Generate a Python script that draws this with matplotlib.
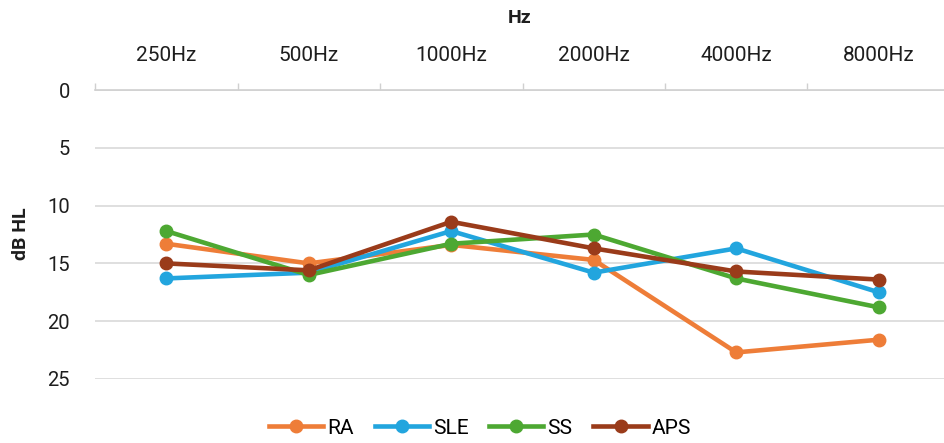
import matplotlib
matplotlib.use("Agg")
import matplotlib.pyplot as plt
from matplotlib.lines import Line2D

categories = ["250Hz", "500Hz", "1000Hz", "2000Hz", "4000Hz", "8000Hz"]
RA = [13.3, 15.0, 13.4, 14.7, 22.7, 21.6]
SLE = [16.3, 15.8, 12.2, 15.8, 13.7, 17.5]
SS = [12.2, 16.0, 13.3, 12.5, 16.3, 18.8]
APS = [15.0, 15.6, 11.4, 13.7, 15.7, 16.4]
series_names = ["RA", "SLE", "SS", "APS"]
yticks = [0, 5, 10, 15, 20, 25]

colors = ["#EE7D38", "#22A5DE", "#4DA832", "#9A3B1A"]
txt = '#1e1e1e'

plt.rcParams['font.family'] = ['Roboto', 'DejaVu Sans']

fig = plt.figure(figsize=(9.44, 4.43), dpi=100)
W, H = 944, 443
left, right = 95, 950
top, bottom = 90, 379
ax = fig.add_axes([left / W, 1 - bottom / H, (right - left) / W, (bottom - top) / H])

x = list(range(len(categories)))
for name, vals, c in zip(series_names, [RA, SLE, SS, APS], colors):
    ax.plot(x, vals, color=c, lw=3.3, marker='o', ms=9, label=name,
            solid_capstyle='round', solid_joinstyle='round')

ax.set_xlim(-0.5, len(categories) - 0.5)
ax.set_ylim(25, 0)
ax.set_yticks(yticks)
ax.set_yticklabels([str(v) for v in yticks], fontsize=14.5, color=txt)
ax.yaxis.grid(True, color='#d9d9d9', lw=1.2)
ax.set_axisbelow(True)
ax.tick_params(axis='y', length=0, pad=18)

ax.xaxis.tick_top()
ax.set_xticks(x)
ax.set_xticklabels(categories, fontsize=15, color=txt)
ax.set_xticks([i - 0.5 for i in range(len(categories) + 1)], minor=True)
ax.tick_params(axis='x', which='major', length=0, pad=18)
ax.tick_params(axis='x', which='minor', length=5, color='#d0d0d0', width=1, direction='out')

for s in ['left', 'right', 'bottom']:
    ax.spines[s].set_visible(False)
ax.spines['top'].set_color('#d0d0d0')
ax.spines['top'].set_linewidth(1.2)

fig.text(520 / W, 1 - 18 / H, "Hz", fontsize=14, fontweight='bold', ha='center', va='center', color=txt)
fig.text(21 / W, 1 - 234 / H, "dB HL", fontsize=14, fontweight='bold', ha='center', va='center',
         rotation=90, color=txt)

handles = [Line2D([0], [0], color=c, lw=3.3, marker='o', ms=9) for c in colors]
fig.legend(handles, series_names, loc='center', bbox_to_anchor=(480 / W, 1 - 428 / H), ncol=4,
           frameon=False, fontsize=15, handlelength=2.6, handletextpad=0.2, columnspacing=1.0)

fig.savefig("out.png", dpi=100)
